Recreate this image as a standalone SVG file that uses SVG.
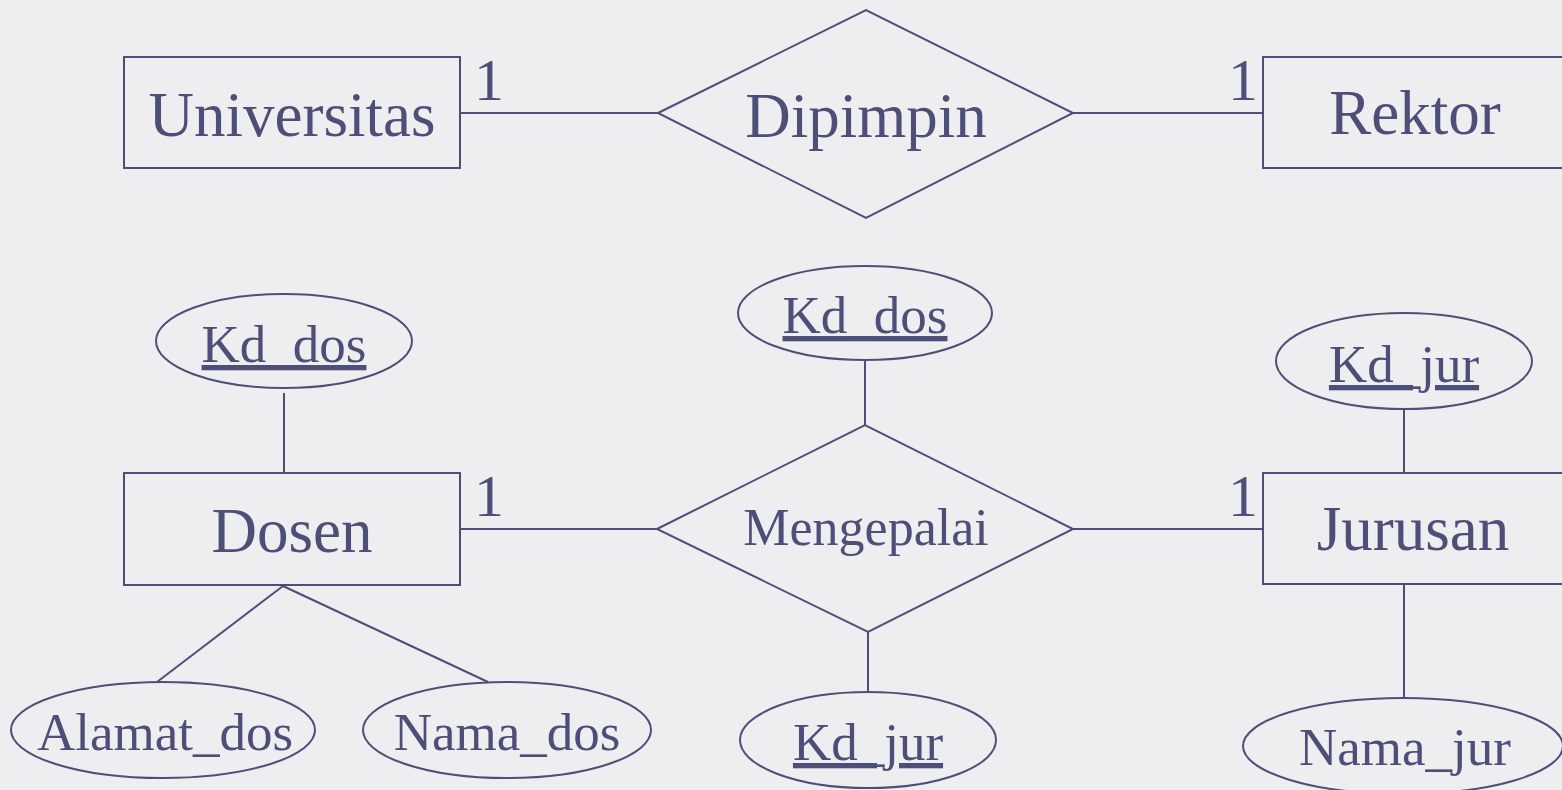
<svg xmlns="http://www.w3.org/2000/svg" width="1562" height="790" viewBox="0 0 1562 790">
<style>
.s{fill:none;stroke:#4E4F78;stroke-width:2}
.t{font-family:"Liberation Serif","Times New Roman",serif;fill:#4E4F78;text-anchor:middle}
.big{font-size:63px}
.mid{font-size:53px}
.one{font-size:60px;text-anchor:start}
.u{text-decoration:underline}
</style>
<rect x="0" y="0" width="1562" height="790" fill="#EEEEF0"/>
<g id="connectors" class="s">
<line x1="461" y1="113" x2="658" y2="113"/>
<line x1="1073" y1="113" x2="1263" y2="113"/>
<line x1="461" y1="529" x2="657" y2="529"/>
<line x1="1073" y1="529" x2="1263" y2="529"/>
<line x1="284" y1="393" x2="284" y2="473"/>
<line x1="283" y1="586" x2="157" y2="682"/>
<line x1="283" y1="586" x2="488" y2="682"/>
<line x1="865" y1="360" x2="865" y2="425"/>
<line x1="868" y1="632" x2="868" y2="692"/>
<line x1="1404" y1="409" x2="1404" y2="473"/>
<line x1="1404" y1="585" x2="1404" y2="698"/>
</g>
<g id="card-labels" class="t one">
<text x="474" y="100">1</text>
<text x="1228" y="100">1</text>
<text x="474" y="516">1</text>
<text x="1228" y="516">1</text>
</g>
<g id="universitas">
<rect class="s" x="124" y="57" width="336" height="111"/>
<text class="t big" x="292" y="136">Universitas</text>
</g>
<g id="dipimpin">
<polygon class="s" points="658,113 866,10 1073,113 866,218"/>
<text class="t big" x="866" y="137">Dipimpin</text>
</g>
<g id="rektor">
<rect class="s" x="1263" y="57" width="336" height="111"/>
<text class="t big" x="1415" y="134">Rektor</text>
</g>
<g id="dosen">
<rect class="s" x="124" y="473" width="336" height="112"/>
<text class="t big" x="292" y="552">Dosen</text>
</g>
<g id="kd_dos_dosen">
<ellipse class="s" cx="284" cy="341" rx="128" ry="47"/>
<text class="t mid u" x="284" y="362">Kd_dos</text>
</g>
<g id="alamat_dos">
<ellipse class="s" cx="163" cy="730" rx="152" ry="48"/>
<text class="t mid" x="165" y="750">Alamat_dos</text>
</g>
<g id="nama_dos">
<ellipse class="s" cx="507" cy="730" rx="144" ry="48"/>
<text class="t mid" x="507" y="750">Nama_dos</text>
</g>
<g id="mengepalai">
<polygon class="s" points="657,529 865,425 1073,529 868,632"/>
<text class="t" style="font-size:52px" x="866" y="545">Mengepalai</text>
</g>
<g id="kd_dos_mengepalai">
<ellipse class="s" cx="865" cy="313" rx="127" ry="47"/>
<text class="t mid u" x="865" y="333">Kd_dos</text>
</g>
<g id="kd_jur_mengepalai">
<ellipse class="s" cx="868" cy="740" rx="128" ry="48"/>
<text class="t mid u" x="868" y="760">Kd_jur</text>
</g>
<g id="jurusan">
<rect class="s" x="1263" y="473" width="336" height="111"/>
<text class="t big" x="1413" y="550">Jurusan</text>
</g>
<g id="kd_jur_jurusan">
<ellipse class="s" cx="1404" cy="361" rx="128" ry="48"/>
<text class="t mid u" x="1404" y="382">Kd_jur</text>
</g>
<g id="nama_jur">
<ellipse class="s" cx="1403" cy="746" rx="160" ry="48"/>
<text class="t mid" x="1405" y="765">Nama_jur</text>
</g>
</svg>
